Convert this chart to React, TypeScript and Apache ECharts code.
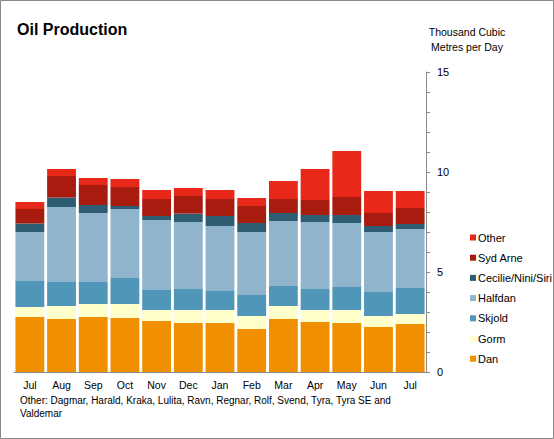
import React, { useEffect, useRef } from "react";
import * as echarts from "echarts";

const months = ["Jul", "Aug", "Sep", "Oct", "Nov", "Dec", "Jan", "Feb", "Mar", "Apr", "May", "Jun", "Jul"];
const dan = [2.75, 2.65, 2.75, 2.7, 2.55, 2.45, 2.45, 2.15, 2.65, 2.5, 2.45, 2.25, 2.4];
const gorm = [0.5, 0.65, 0.65, 0.7, 0.55, 0.65, 0.65, 0.65, 0.65, 0.6, 0.65, 0.55, 0.5];
const skjold = [1.3, 1.2, 1.1, 1.3, 1.0, 1.05, 0.95, 1.05, 1.0, 1.05, 1.15, 1.2, 1.3];
const halfdan = [2.45, 3.75, 3.45, 3.45, 3.5, 3.35, 3.25, 3.15, 3.25, 3.35, 3.2, 3.0, 2.95];
const cecilie = [0.42, 0.47, 0.4, 0.15, 0.2, 0.42, 0.5, 0.45, 0.4, 0.35, 0.4, 0.3, 0.25];
const sydArne = [0.73, 1.08, 1.0, 0.95, 0.85, 0.88, 0.85, 0.85, 0.7, 0.75, 0.9, 0.65, 0.8];
const other = [0.35, 0.35, 0.35, 0.4, 0.45, 0.4, 0.45, 0.4, 0.9, 1.55, 2.3, 1.1, 0.85];

const seriesDefs = [
  { name: "Dan", data: dan, color: "#F09000" },
  { name: "Gorm", data: gorm, color: "#FFFFCC" },
  { name: "Skjold", data: skjold, color: "#5096B8" },
  { name: "Halfdan", data: halfdan, color: "#90B4CC" },
  { name: "Cecilie/Nini/Siri", data: cecilie, color: "#2E5C73" },
  { name: "Syd Arne", data: sydArne, color: "#A81C10" },
  { name: "Other", data: other, color: "#E82818" },
];
const legendOrder = ["Other", "Syd Arne", "Cecilie/Nini/Siri", "Halfdan", "Skjold", "Gorm", "Dan"];

const FONT = "Liberation Sans, Arial, sans-serif";

export default function App() {
  const ref = useRef<HTMLDivElement>(null);
  useEffect(() => {
    const chart = echarts.init(ref.current!, null, { renderer: "svg" });
    chart.setOption({
      animation: false,
      backgroundColor: "#ffffff",
      textStyle: { fontFamily: FONT },
      title: {
        text: "Oil Production",
        left: 12,
        top: 16,
        textStyle: { fontFamily: FONT, fontSize: 16, fontWeight: "bold", color: "#000" },
      },
      legend: {
        orient: "vertical",
        left: 465,
        top: 227,
        itemWidth: 6,
        itemHeight: 6,
        itemGap: 9.2,
        icon: "rect",
        data: legendOrder,
        textStyle: { fontFamily: FONT, fontSize: 11, color: "#000", padding: [0, 0, 0, -3] },
      },
      grid: { left: 14, right: 128, top: 72, bottom: 67 },
      xAxis: {
        type: "category",
        data: months,
        axisLine: { lineStyle: { color: "#888", width: 1 } },
        axisTick: { alignWithLabel: false, length: 4, lineStyle: { color: "#888" } },
        axisLabel: { color: "#000", fontSize: 10.5, fontFamily: FONT, margin: 7, interval: 0 },
      },
      yAxis: {
        type: "value",
        position: "right",
        min: 0,
        max: 15,
        interval: 5,
        splitLine: { show: false },
        axisLine: { show: true, lineStyle: { color: "#888", width: 1 } },
        axisTick: { show: true, length: 4, lineStyle: { color: "#888" } },
        minorTick: { show: true, splitNumber: 5, length: 4, lineStyle: { color: "#888" } },
        axisLabel: { color: "#000", fontSize: 11, fontFamily: FONT, margin: 11 },
      },
      graphic: [
        {
          type: "rect",
          shape: { x: 0.5, y: 0.5, width: 553, height: 438 },
          style: { fill: "none", stroke: "#888", lineWidth: 1 },
          silent: true,
        },
        {
          type: "text",
          x: 467,
          y: 24,
          style: {
            text: "Thousand Cubic\nMetres per Day",
            fontFamily: FONT,
            fontSize: 10.5,
            fill: "#000",
            align: "center",
            lineHeight: 15,
          },
        },
        {
          type: "text",
          x: 20,
          y: 394,
          style: {
            text: "Other: Dagmar, Harald, Kraka, Lulita, Ravn, Regnar, Rolf, Svend, Tyra, Tyra SE and\nValdemar",
            fontFamily: FONT,
            fontSize: 10,
            fill: "#000",
            lineHeight: 13,
          },
        },
      ],
      series: seriesDefs.map((s) => ({
        name: s.name,
        type: "bar",
        stack: "total",
        data: s.data,
        barCategoryGap: "9%",
        itemStyle: { color: s.color },
      })),
    });
    return () => chart.dispose();
  }, []);
  return <div ref={ref} style={{ position: "fixed", left: 0, top: 0, width: 554, height: 439 }} />;
}
